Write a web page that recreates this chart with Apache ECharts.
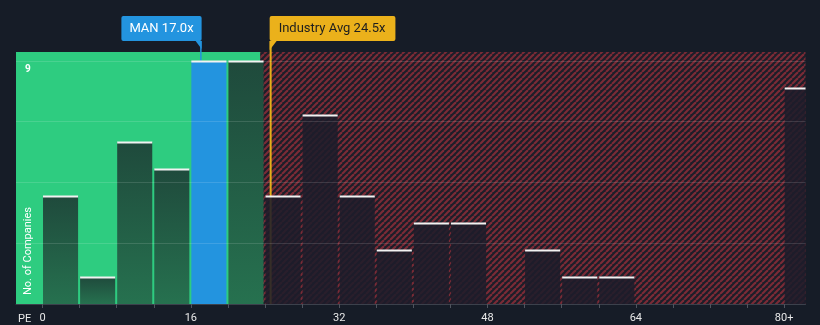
<!DOCTYPE html>
<html>
<head>
<meta charset="utf-8">
<script src="https://cdn.jsdelivr.net/npm/echarts@6/dist/echarts.min.js"></script>
<style>
html,body{margin:0;padding:0;background:#161c27;}
#chart{width:820px;height:325px;}
</style>
</head>
<body>
<div id="chart"></div>
<script>
// ---- data ----
var binStarts = [0,4,8,12,16,20,24,28,32,36,40,44,48,52,56,60,64,68,72,76,80];
var binCounts = [4,1,6,5,9,9,4,7,4,2,3,3,0,2,1,1,0,0,0,0,8];
var binWidth = 4;
var xTickValues = [0,4,8,12,16,20,24,28,32,36,40,44,48,52,56,60,64,68,72,76,80];
var xLabelValues = [0,16,32,48,64,80];
var yGridValues = [2.25,4.5,6.75,9];
var yLabelValue = 9;
var companyName = 'MAN';
var companyPE = 17.0;
var industryAvg = 24.5;
var belowAvgEdge = 23.5;
var xMin = -2.86, xMax = 82.3;
var yMax = 9.333;

// ---- hatch pattern ----
function makeHatch() {
  var s = 6;
  var c = document.createElement('canvas');
  c.width = s; c.height = s;
  var g = c.getContext('2d');
  g.fillStyle = '#1c1e29';
  g.fillRect(0, 0, s, s);
  g.strokeStyle = '#7a2b36';
  g.lineWidth = 2.2;
  for (var k = -1; k <= 1; k++) {
    g.beginPath();
    g.moveTo(k * s, s);
    g.lineTo(k * s + s, 0);
    g.stroke();
  }
  return c;
}

var barData = binStarts.map(function (s, i) { return [s, s + binWidth, binCounts[i]]; });

function renderBar(params, api) {
  var start = api.value(0), end = api.value(1), v = api.value(2);
  if (!v) return;
  var cs = params.coordSys;
  var pTop = api.coord([start, v]);
  var pEnd = api.coord([end, 0]);
  var x0 = pTop[0] + 0.5;
  var x1 = Math.min(pEnd[0] - 1.5, cs.x + cs.width);
  var y0 = pTop[1], y1 = pEnd[1];
  var fill;
  if (companyPE >= start && companyPE < end) {
    fill = '#2394df';
  } else if (end <= belowAvgEdge + 0.5) {
    fill = new echarts.graphic.LinearGradient(0, 0, 0, 1, [
      {offset: 0, color: '#1f4a3c'}, {offset: 1, color: '#26714f'}
    ]);
  } else {
    fill = 'rgba(30,29,42,0.88)';
  }
  return {
    type: 'group',
    children: [
      {type: 'rect', shape: {x: x0, y: y0, width: x1 - x0, height: y1 - y0}, style: {fill: fill}},
      {type: 'rect', shape: {x: x0, y: y0 - 0.5, width: x1 - x0, height: 2}, style: {fill: '#f2f2f2'}}
    ]
  };
}

// y label: placed through the y scale
function renderYLabel(params, api) {
  var cs = params.coordSys;
  var p = api.coord([0, api.value(1)]);
  return {type: 'text', x: cs.x + 9, y: p[1] + 4, style: {
    text: String(api.value(1)), fill: '#ffffff', font: 'bold 10px Roboto', align: 'left', verticalAlign: 'top'
  }};
}

var calloutData = [[companyPE, 0], [industryAvg, 1]];
function renderCallout(params, api) {
  var cs = params.coordSys;
  var idx = api.value(1);
  var cx = api.coord([api.value(0), 0])[0];
  var top = cs.y;
  var B = top - 11;
  var font = '13px Roboto';
  if (idx === 0) {
    var R = cx + 1.5;
    var yBar = api.coord([0, 9])[1];
    return {
      type: 'group',
      children: [
        {type: 'rect', shape: {x: R - 1.5, y: B, width: 1.5, height: yBar - B}, style: {fill: '#2394df'}},
        {type: 'polygon', shape: {points: [[R - 6, B], [R, B], [R, B + 8]]}, style: {fill: '#2394df'}},
        {type: 'text', x: R, y: B, style: {
          text: companyName + ' ' + companyPE.toFixed(1) + 'x', fill: '#ffffff', font: font,
          align: 'right', verticalAlign: 'bottom', backgroundColor: '#2394df',
          padding: [0, 8, 0, 8], lineHeight: 25, borderRadius: 2
        }}
      ]
    };
  } else {
    var L = cx;
    return {
      type: 'group',
      children: [
        {type: 'rect', shape: {x: L, y: B, width: 2, height: cs.y + cs.height - B}, style: {fill: '#e6ae1a'}},
        {type: 'polygon', shape: {points: [[L, B], [L + 7, B], [L, B + 9]]}, style: {fill: '#ebb11b'}},
        {type: 'text', x: L, y: B, style: {
          text: 'Industry Avg ' + industryAvg.toFixed(1) + 'x', fill: '#1e1e1e', font: font,
          align: 'left', verticalAlign: 'bottom', backgroundColor: '#ebb11b',
          padding: [0, 10, 0, 9], lineHeight: 25, borderRadius: 2
        }}
      ]
    };
  }
}

var chart = echarts.init(document.getElementById('chart'), null, {renderer: 'canvas'});
chart.setOption({
  backgroundColor: '#161c27',
  animation: false,
  textStyle: {fontFamily: 'Roboto'},
  grid: {left: 16, right: 14.5, top: 52, bottom: 21, containLabel: false},
  xAxis: {
    type: 'value', min: xMin, max: xMax,
    splitLine: {show: false},
    axisLine: {show: true, lineStyle: {color: '#3c414c', width: 1}},
    axisTick: {show: true, customValues: xTickValues, length: 4, lineStyle: {color: '#4f545e'}},
    axisLabel: {
      customValues: xLabelValues, color: '#e8e8e8', fontSize: 11, margin: 9,
      formatter: function (v) { return v === 80 ? '80+' : String(v); }
    }
  },
  yAxis: {
    type: 'value', min: 0, max: yMax,
    splitLine: {show: false},
    axisLine: {show: false}, axisTick: {show: false},
    axisLabel: {show: false}
  },
  graphic: [
    {type: 'text', left: 18, top: 314, style: {text: 'PE', fill: '#e8e8e8', font: '11px Roboto'}, z: 10},
    {type: 'text', x: 28, y: 251, rotation: Math.PI / 2, style: {
      text: 'No. of Companies', fill: '#ffffff', font: '11px Roboto', align: 'center', verticalAlign: 'middle'
    }, z: 10}
  ],
  series: [
    {
      type: 'scatter', data: [], z: 1,
      markArea: {
        silent: true,
        z: 1,
        data: [
          [{xAxis: xMin, itemStyle: {color: '#2ecc80'}}, {xAxis: belowAvgEdge}],
          [{xAxis: belowAvgEdge, itemStyle: {color: {image: makeHatch(), repeat: 'repeat'}}}, {xAxis: xMax}]
        ]
      },
      markLine: {
        silent: true, symbol: 'none', z: 6,
        label: {show: false},
        lineStyle: {color: 'rgba(255,255,255,0.13)', width: 1, type: 'solid'},
        data: yGridValues.map(function (v) { return {yAxis: v}; })
      }
    },
    {type: 'custom', z: 2, clip: false, renderItem: renderCallout, data: calloutData},
    {type: 'custom', z: 3, renderItem: renderBar, data: barData},
    {type: 'custom', z: 7, clip: false, renderItem: renderYLabel, data: [[0, yLabelValue]]}
  ]
});
</script>
</body>
</html>
